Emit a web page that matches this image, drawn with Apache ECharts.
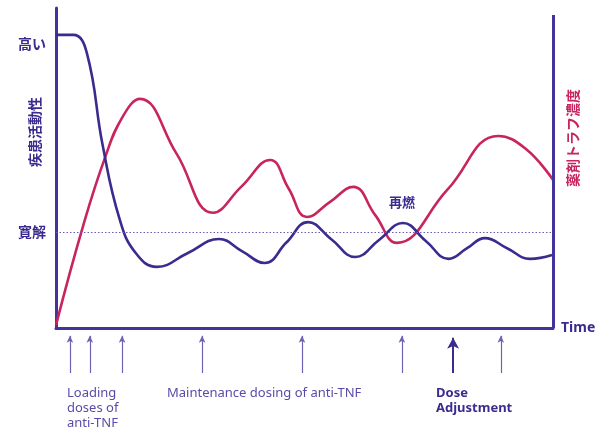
<!DOCTYPE html>
<html><head><meta charset="utf-8">
<script src="https://cdn.jsdelivr.net/npm/echarts@6/dist/echarts.min.js"></script>
<style>html,body{margin:0;padding:0;background:#fff}#c{width:605px;height:431px}</style>
</head><body><div id="c"></div>
<script>
// Disease activity (time 0-100, level 0-100)
const diseaseActivity = [[0,91.6],[3.5,91.6],[6.2,86],[9.4,57],[12.8,34],[16,23.5],[20.3,19.1],[26.55,23.45],[32.8,27.8],[37.4,24.05],[42,20.3],[46.35,26.7],[50.7,33.1],[55.45,27.65],[60.2,22.2],[65,27.5],[69.8,32.8],[74.4,27.2],[79,21.6],[82.65,24.85],[86.3,28.1],[90.85,24.85],[95.4,21.6],[99.8,22.8]];
// Drug trough concentration
const troughLevel = [[0,0.9],[5.4,31.6],[9.9,53.4],[13.4,66],[16.9,71.6],[24.25,54.5],[31.6,36],[37.35,44.25],[43.1,52.5],[46.8,43.6],[50.5,34.7],[55.15,39.4],[59.8,44.1],[64.2,35.35],[68.6,26.6],[78.8,43.3],[89,60],[94.5,56],[100,46.3]];
const remissionLevel = 30;
const yTickValues = [30, 89];
const yTickLabels = {30: '寛解', 89: '高い'};
const doseTimes = [2.8, 6.8, 13.3, 29.4, 49.5, 69.6, 89.5];
const adjustmentTimes = [79.9];
const flarePoint = [69.6, 39.4];
const rightAxisTop = 97.8;

const AX = '#43339a', DARK = '#3b2b8e', RED = '#c8245f', LIGHT = '#6f62b3';
const FONT = '"Noto Sans CJK JP", "Noto Sans", sans-serif';

const arrowLines = doseTimes.map(t => [
  {coord:[t,0], symbol:'none'},
  {coord:[t,0.93], symbol:'arrow', symbolSize:[5,7]}
]).concat(adjustmentTimes.map(t => [
  {coord:[t,0], symbol:'none', lineStyle:{color:DARK,width:2}},
  {coord:[t,0.88], symbol:'arrow', symbolSize:[9,11], lineStyle:{color:DARK,width:2}, itemStyle:{color:DARK}}
]));

const chart = echarts.init(document.getElementById('c'), null, {renderer:'canvas'});
chart.setOption({
  animation:false,
  textStyle:{fontFamily:FONT},
  grid:[
    {left:56, right:52, top:8, bottom:103},
    {left:56, right:52, top:333, height:40}
  ],
  xAxis:[
    {type:'value', min:0, max:100, gridIndex:0,
     axisLine:{show:true, lineStyle:{color:AX, width:3}}, axisTick:{show:false},
     axisLabel:{show:false}, splitLine:{show:false},
     name:'Time', nameLocation:'end', nameGap:8,
     nameTextStyle:{color:DARK, fontWeight:'bold', fontSize:14, fontFamily:'"Noto Sans", sans-serif', verticalAlign:'middle'}},
    {type:'value', min:0, max:100, gridIndex:1, show:false}
  ],
  yAxis:[
    {type:'value', min:0, max:100, gridIndex:0,
     axisLine:{show:true, lineStyle:{color:AX, width:3}}, axisTick:{show:false},
     splitLine:{show:false},
     axisLabel:{customValues:yTickValues, formatter:v => yTickLabels[v] || '', color:DARK, fontWeight:'bold', fontSize:14, margin:10}},
    {type:'value', min:0, max:1, gridIndex:1, show:false}
  ],
  series:[
    {type:'line', data:troughLevel, smooth:0.45, smoothConstraint:false, symbol:'none',
     lineStyle:{color:RED, width:2.6}, z:3,
     markLine:{silent:true, symbol:'none', label:{show:false},
       data:[[{coord:[100,0]},{coord:[100,rightAxisTop]}]],
       lineStyle:{color:AX, width:3, type:'solid'}}},
    {type:'line', data:diseaseActivity, smooth:0.45, smoothConstraint:false, symbol:'none',
     lineStyle:{color:DARK, width:2.6}, z:4,
     markLine:{silent:true, symbol:'none', label:{show:false},
       data:[{yAxis:remissionLevel}],
       lineStyle:{color:'#6a5cb0', width:1, type:[1.5,2]}},
     markPoint:{symbol:'circle', symbolSize:1, itemStyle:{color:'rgba(0,0,0,0)'},
       label:{show:true, formatter:'再燃', color:DARK, fontWeight:'bold', fontSize:13, position:'inside'},
       data:[{coord:flarePoint}]}},
    {type:'line', xAxisIndex:1, yAxisIndex:1, data:[], 
     markLine:{silent:true, label:{show:false}, lineStyle:{color:LIGHT, width:1.2, type:'solid'},
       itemStyle:{color:LIGHT}, data:arrowLines}}
  ],
  graphic:[
    {type:'text', rotation:Math.PI/2, position:[35,132],
     style:{text:'疾患活動性', fill:DARK, font:'bold 14px '+FONT, textAlign:'center', textVerticalAlign:'middle', x:0, y:0}},
    {type:'text', rotation:Math.PI/2, position:[573,138],
     style:{text:'薬剤トラフ濃度', fill:RED, font:'bold 14px '+FONT, textAlign:'center', textVerticalAlign:'middle', x:0, y:0}},
    {type:'text', left:67, top:386,
     style:{text:'Loading\ndoses of\nanti-TNF', fill:'#5a4ba8', font:'13px "Noto Sans", sans-serif', lineHeight:15}},
    {type:'text', left:167, top:386,
     style:{text:'Maintenance dosing of anti-TNF', fill:'#5a4ba8', font:'13px "Noto Sans", sans-serif', lineHeight:15}},
    {type:'text', left:436, top:386,
     style:{text:'Dose\nAdjustment', fill:DARK, font:'bold 13px "Noto Sans", sans-serif', lineHeight:15}}
  ]
});
</script></body></html>
